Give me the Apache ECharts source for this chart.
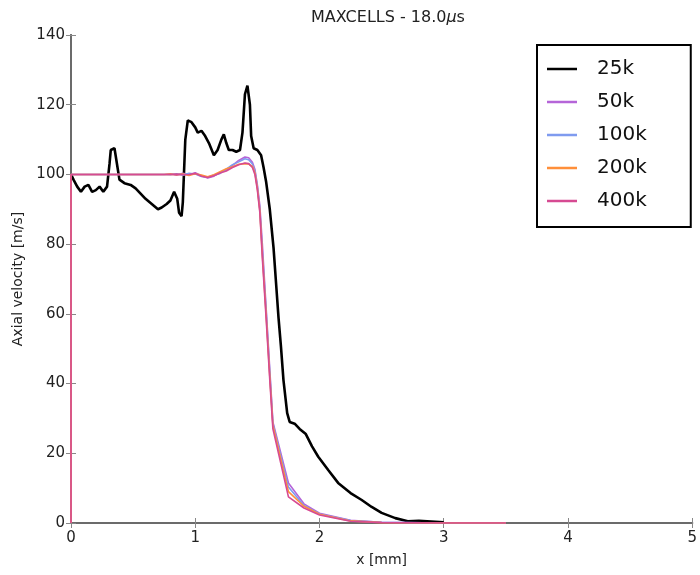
<!DOCTYPE html>
<html>
<head>
<meta charset="utf-8">
<script src="https://cdn.jsdelivr.net/npm/echarts@6/dist/echarts.min.js"></script>
<style>html,body{margin:0;padding:0;background:#fff}#c{width:700px;height:575px}</style>
</head>
<body>
<div id="c"></div>
<script>
// ---- data ----
const seriesNames = ['25k', '50k', '100k', '200k', '400k'];
const xTicks = [0, 1, 2, 3, 4, 5];
const yTicks = [0, 20, 40, 60, 80, 100, 120, 140];

const blackX = [0,0.02,0.05,0.08,0.11,0.14,0.17,0.2,0.23,0.26,0.29,0.31,0.32,0.35,0.37,0.39,0.43,0.48,0.52,0.56,0.6,0.65,0.7,0.73,0.77,0.8,0.83,0.855,0.87,0.89,0.9,0.92,0.94,0.97,1.0,1.02,1.05,1.08,1.11,1.15,1.18,1.21,1.23,1.25,1.27,1.3,1.33,1.36,1.38,1.4,1.42,1.44,1.45,1.47,1.5,1.53,1.55,1.57,1.6,1.63,1.65,1.67,1.69,1.71,1.74,1.76,1.8,1.84,1.89,1.94,1.99,2.07,2.15,2.25,2.34,2.42,2.5,2.61,2.71,2.8,2.9,3.0];
const y25k = [100,98.5,96.5,95,96.5,97,95,95.5,96.5,95,96.5,103,107,107.5,103,98.5,97.5,97,96,94.5,93,91.5,90,90.5,91.5,92.5,95,93,89,88,92,110,115.5,115,113.5,112,112.5,111,109,105.5,107,110,111.5,109,107,107,106.5,107,112,123,125.5,120,111,107.5,107,105.5,102,98,90,79,69,59,50.5,41,31.5,29,28.5,27,25.5,22,19,15.2,11.5,8.6,6.6,4.6,2.9,1.4,0.5,0.6,0.4,0.2];

const fineX = [0,0,0.75,0.8,0.85,0.9,0.95,1.0,1.05,1.1,1.15,1.2,1.25,1.3,1.35,1.4,1.43,1.46,1.48,1.5,1.52,1.54,1.57,1.6,1.625,1.75,1.875,2.0,2.25,2.5,3.0,3.5];
const y50k  = [0,100,100,100.2,99.8,100.3,99.9,100.5,99.6,99.0,99.5,100.6,101.2,102.6,104.0,105.0,104.8,103.5,101.5,97,91,80,62,44,29,11.5,5.5,2.8,0.8,0.2,0,0];
const y100k = [0,100,100,99.9,100.2,99.8,100.3,100.1,99.4,99.2,99.8,100.3,101.5,102.8,103.6,104.5,104.2,103.0,101.0,96.5,90,78,61,43,28.5,10.3,5.0,2.6,0.7,0.2,0,0];
const y200k = [0,100,100,100.1,99.9,100.1,99.7,100.2,99.8,99.3,99.9,100.8,101.6,102.2,102.9,103.1,103.0,102.3,100.5,96,89.5,77,60,42,28,9.0,4.8,2.5,0.6,0.1,0,0];
const y400k = [0,100,100,100.0,100.1,99.9,100.0,100.3,99.5,99.1,99.6,100.4,101.0,102.0,102.8,103.3,103.1,102.0,100.0,95.5,89,76,59,41,27,7.5,4.3,2.3,0.5,0.1,0,0];

const colors = ['#000000', '#b565d8', '#7f9bef', '#ff8f3a', '#d64a92'];
const widths = [2.6, 1.6, 1.6, 1.6, 1.6];

function pairs(xs, ys) { return xs.map((x, i) => [x, ys[i]]); }
const allY = [y25k, y50k, y100k, y200k, y400k];
const allX = [blackX, fineX, fineX, fineX, fineX];

const font = 'DejaVu Sans';
const chart = echarts.init(document.getElementById('c'), null, {renderer: 'canvas'});

const axisLineStyle = {color: '#6b6b6b', width: 2};
const tickStyle = {show: true, inside: true, length: 5, lineStyle: {color: '#888', width: 1}};

chart.setOption({
  animation: false,
  backgroundColor: '#fff',
  textStyle: {fontFamily: font},
  title: {
    text: '{a|MAXCELLS - 18.0}{b|μ}{a|s}',
    left: 383, top: 5, textAlign: 'center',
    textStyle: {
      fontWeight: 'normal',
      rich: {
        a: {fontFamily: font, fontSize: 16, color: '#222', fontWeight: 'normal'},
        b: {fontFamily: font, fontSize: 16, color: '#222', fontStyle: 'italic', fontWeight: 'normal'}
      }
    }
  },
  legend: {
    data: seriesNames.map((n, i) => ({name: n, icon: 'rect', itemStyle: {color: colors[i]}})),
    orient: 'vertical',
    left: 537, top: 45,
    padding: [14, 44, 16, 10],
    itemGap: 13,
    itemWidth: 30, itemHeight: 2.5,
    borderColor: '#000', borderWidth: 2,
    backgroundColor: '#fff',
    textStyle: {fontFamily: font, fontSize: 20, color: '#111', padding: [0, 0, 0, 15], lineHeight: 20}
  },
  grid: {left: 71, right: 4, top: 35, bottom: 52},
  xAxis: [{
    type: 'value', min: 0, max: 5, interval: 1,
    name: 'x [mm]', nameLocation: 'middle', nameGap: 30,
    nameTextStyle: {fontFamily: font, fontSize: 14, color: '#222'},
    axisLine: {show: true, onZero: false, lineStyle: axisLineStyle},
    axisTick: tickStyle,
    axisLabel: {fontFamily: font, fontSize: 15, color: '#222', margin: 8,
      formatter: v => xTicks.includes(v) ? String(v) : ''},
    splitLine: {show: false}
  }, {
    type: 'value', position: 'top', min: 0, max: 5, interval: 1,
    axisLine: {show: true, lineStyle: axisLineStyle},
    axisTick: tickStyle, axisLabel: {show: false}, splitLine: {show: false}
  }],
  yAxis: [{
    type: 'value', min: 0, max: 140, interval: 20,
    name: 'Axial velocity [m/s]', nameLocation: 'middle', nameGap: 44,
    nameTextStyle: {fontFamily: font, fontSize: 14, color: '#222'},
    axisLine: {show: true, onZero: false, lineStyle: axisLineStyle},
    axisTick: tickStyle,
    axisLabel: {fontFamily: font, fontSize: 15, color: '#222', margin: 6,
      formatter: v => yTicks.includes(v) ? String(v) : ''},
    splitLine: {show: false}
  }, {
    type: 'value', position: 'right', min: 0, max: 140, interval: 20,
    axisLine: {show: true, lineStyle: axisLineStyle},
    axisTick: tickStyle, axisLabel: {show: false}, splitLine: {show: false}
  }],
  series: seriesNames.map((name, i) => ({
    name: name,
    type: 'line',
    xAxisIndex: 0, yAxisIndex: 0,
    data: pairs(allX[i], allY[i]),
    symbol: 'none',
    smooth: false,
    color: colors[i],
    lineStyle: {color: colors[i], width: widths[i]},
    z: 2 + i
  }))
});
</script>
</body>
</html>
